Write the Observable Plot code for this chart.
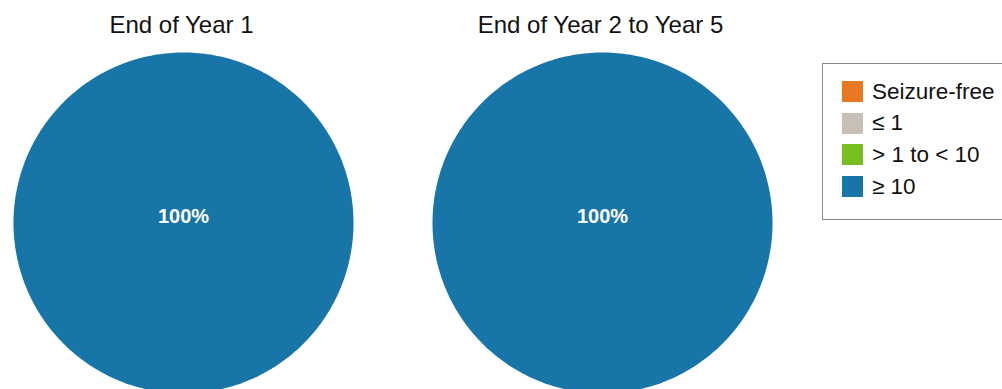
<!DOCTYPE html>
<html>
<head>
<meta charset="utf-8">
<script src="https://cdn.jsdelivr.net/npm/d3@7"></script>
<script src="https://cdn.jsdelivr.net/npm/@observablehq/plot@0.6"></script>
<style>
  html, body { margin: 0; padding: 0; background: #fff; overflow: hidden; }
  #wrap { position: relative; width: 1002px; height: 389px; overflow: hidden; font-family: "Liberation Sans", Arial, sans-serif; }
  #chart { position: absolute; left: 0; top: 0; }
  #legend { position: absolute; left: 822px; top: 63px; width: 220px; box-sizing: border-box;
            border: 1.5px solid #8a8a8a; padding: 12px 0 12px 19px; background: #fff; }
  #legend .lg-swatch { display: flex !important; align-items: center; height: 31.6px; margin: 0 !important; padding: 0 !important;
            font-size: 22.5px; color: #111; font-family: "Liberation Sans", Arial, sans-serif; }
  #legend .lg-swatch svg { margin-right: 9px !important; }
</style>
</head>
<body>
<div id="wrap"><div id="chart"></div><div id="legend"></div></div>
<script>
// ---- data ----
const periods = ["End of Year 1", "End of Year 2 to Year 5"];
const categories = ["Seizure-free", "≤ 1", "> 1 to < 10", "≥ 10"];
const colors = ["#E87722", "#C8C0B6", "#78BE20", "#1775A8"];
const year1Values = [0, 0, 0, 100];
const year2to5Values = [0, 0, 0, 100];

const valuesByPeriod = [year1Values, year2to5Values];

// ---- build slice polygons from d3.pie angles (unit radius) ----
const pie = d3.pie().sort(null).value(d => d);
const points = [];
const labels = [];
valuesByPeriod.forEach((vals, pi) => {
  const total = d3.sum(vals);
  pie(vals).forEach((a, ci) => {
    if (a.value <= 0) return;
    const id = periods[pi] + "|" + categories[ci];
    const full = a.endAngle - a.startAngle >= 2 * Math.PI - 1e-9;
    const n = 360;
    if (!full) points.push({id, period: periods[pi], category: categories[ci], x: 0, y: 0});
    for (let k = 0; k <= n; k++) {
      const t = a.startAngle + (a.endAngle - a.startAngle) * k / n;
      points.push({id, period: periods[pi], category: categories[ci], x: Math.sin(t), y: Math.cos(t)});
    }
    const mid = (a.startAngle + a.endAngle) / 2;
    const r = full ? 0 : 0.6;
    labels.push({period: periods[pi], x: r * Math.sin(mid), y: r * Math.cos(mid),
                 text: Math.round(a.value / total * 100) + "%"});
  });
});

const color = {domain: categories, range: colors};

const plot = Plot.plot({
  width: 1002,
  height: 389,
  marginLeft: 12,
  marginRight: 229,
  marginTop: 52,
  marginBottom: 0,
  style: {fontFamily: "Liberation Sans, Arial, sans-serif", background: "transparent", overflow: "hidden"},
  fx: {domain: periods, paddingInner: 0.188, paddingOuter: 0, label: null},
  x: {domain: [-1, 1], axis: null},
  y: {domain: [-0.977, 1], axis: null},
  color,
  marks: [
    Plot.axisFx({anchor: "top", tickSize: 0, tickPadding: 20, fontSize: 24, fill: "#111", label: null, dx: -2}),
    Plot.line(points, {x: "x", y: "y", z: "id", fx: "period", fill: "category", stroke: null, curve: "linear"}),
    Plot.text(labels, {x: "x", y: "y", fx: "period", text: "text", fill: "white", fontSize: 20, fontWeight: "bold", dy: -6})
  ]
});
document.getElementById("chart").appendChild(plot);

const legend = Plot.legend({color, columns: 1, swatchSize: 21, className: "lg"});
document.getElementById("legend").appendChild(legend);
</script>
</body>
</html>
